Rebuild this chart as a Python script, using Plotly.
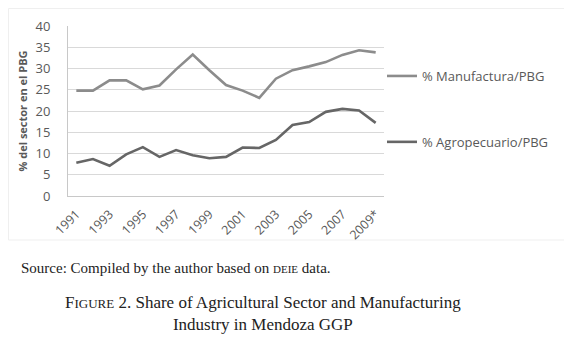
import plotly.graph_objects as go

# page has an 8px default body margin; compensate so pixel positions match
OFF = 8
W, H = 572 - OFF, 344 - OFF

years = [str(y) for y in range(1991, 2010)]
tick_years = ["1991", "1993", "1995", "1997", "1999", "2001", "2003", "2005", "2007", "2009"]
tick_labels = ["1991", "1993", "1995", "1997", "1999", "2001", "2003", "2005", "2007", "2009*"]

manufactura = [24.8, 24.8, 27.2, 27.2, 25.1, 26.0, 29.8, 33.3, 29.6, 26.1,
               24.8, 23.1, 27.6, 29.6, 30.5, 31.5, 33.2, 34.3, 33.8]
agropecuario = [7.8, 8.7, 7.1, 9.8, 11.5, 9.2, 10.8, 9.6, 8.9, 9.2,
                11.4, 11.3, 13.2, 16.7, 17.4, 19.8, 20.5, 20.1, 17.2]

name_manu = "% Manufactura/PBG"
name_agro = "% Agropecuario/PBG"

def px_x(p):
    return (p - OFF) / W

def px_y(p):
    return 1 - (p - OFF) / H

fig = go.Figure()
fig.add_trace(go.Scatter(x=years, y=manufactura, mode="lines", name=name_manu,
                         legendgroup="m",
                         line=dict(color="#8c8c8c", width=2.6)))
fig.add_trace(go.Scatter(x=years, y=agropecuario, mode="lines", name=name_agro,
                         legendgroup="a",
                         line=dict(color="#666666", width=2.6)))

chart_font = "Open Sans, Lato, sans-serif"
serif = "Liberation Serif, DejaVu Serif, serif"

fig.update_layout(
    width=W, height=H,
    margin=dict(l=0, r=0, t=0, b=0, autoexpand=False),
    paper_bgcolor="white", plot_bgcolor="white",
    showlegend=True,
    legend=dict(x=px_x(382), y=px_y(61), xanchor="left", yanchor="top",
                font=dict(family=chart_font, size=13, color="#595959"),
                tracegroupgap=46, itemwidth=30, bgcolor="rgba(0,0,0,0)"),
    xaxis=dict(domain=[px_x(68), px_x(384)], type="category",
               range=[-0.5, 18.5], automargin=False,
               tickmode="array", tickvals=tick_years, ticktext=tick_labels,
               tickangle=-45, tickfont=dict(family=chart_font, size=12.5, color="#595959"),
               ticklabelstandoff=5,
               showgrid=False, showline=True, linecolor="#c8c8c8", linewidth=1,
               zeroline=False, ticks=""),
    yaxis=dict(domain=[px_y(196), px_y(26)], range=[0, 40], dtick=5,
               automargin=False,
               tickfont=dict(family=chart_font, size=13, color="#595959"),
               showgrid=True, gridcolor="#d9d9d9", gridwidth=1,
               showline=True, linecolor="#c8c8c8", linewidth=1,
               zeroline=False, ticks="", ticklabelstandoff=14,
               title=dict(text="<b>% del sector en el PBG</b>",
                          font=dict(family=chart_font, size=11, color="#595959"),
                          standoff=5)),
)

# faint chart-area border
fig.add_shape(type="rect", xref="paper", yref="paper",
              x0=px_x(8.5), x1=px_x(567), y0=px_y(240), y1=px_y(8.5),
              line=dict(color="#efefef", width=1), layer="below")

fig.add_annotation(xref="paper", yref="paper", x=px_x(19), y=px_y(268),
                   xanchor="left", yanchor="middle", showarrow=False,
                   text="Source: Compiled by the author based on <span style='font-size:11px'>DEIE</span> data.",
                   font=dict(family=serif, size=15, color="#222222"))
fig.add_annotation(xref="paper", yref="paper", x=px_x(263), y=px_y(313),
                   xanchor="center", yanchor="middle", showarrow=False,
                   text="F<span style='font-size:13px'>IGURE</span> 2. Share of Agricultural Sector and Manufacturing<br>Industry in Mendoza GGP",
                   font=dict(family=serif, size=17, color="#222222"))

fig.write_html("out.html")
